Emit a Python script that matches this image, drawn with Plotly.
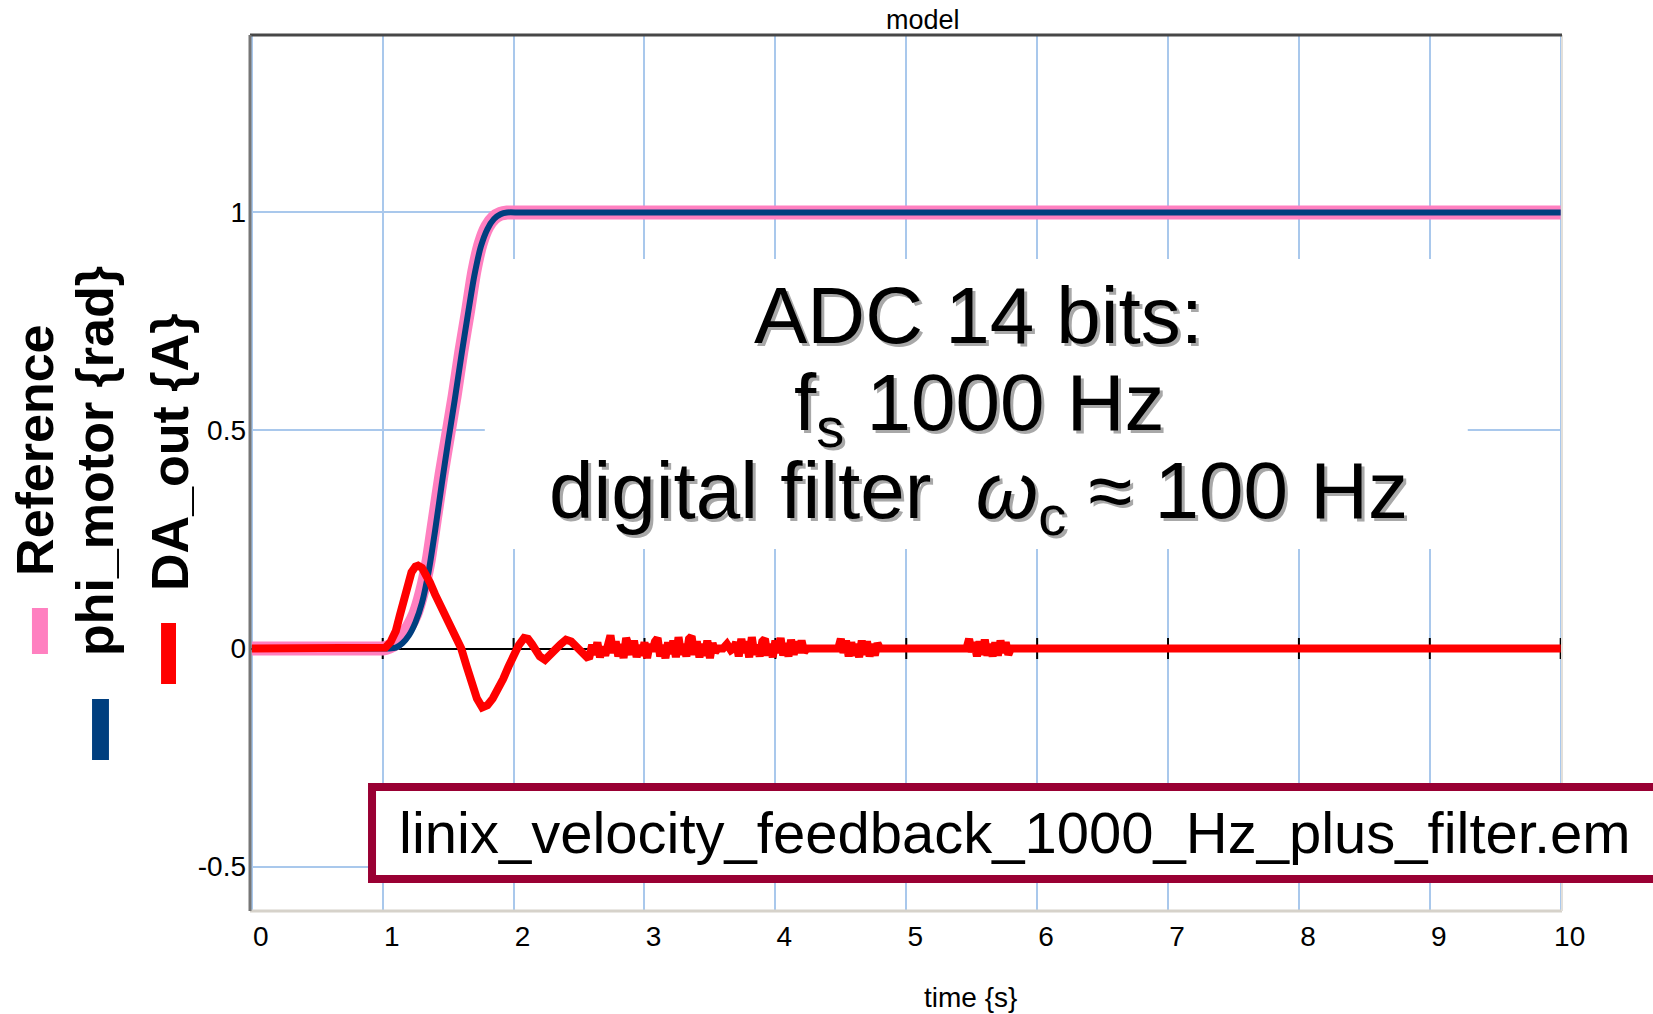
import numpy as np
import plotly.graph_objects as go

# ---- simulation output: time axis and signals ----
t_step = [0.0, 0.95, 1.00, 1.05, 1.10, 1.15, 1.20, 1.25, 1.30, 1.35, 1.40, 1.45, 1.50,
          1.55, 1.60, 1.65, 1.70, 1.75, 1.80, 1.85, 1.90, 1.95, 2.05, 10.0]
reference = [0.0, 0.0, 0.0, 0.004, 0.012, 0.028, 0.05, 0.08, 0.13, 0.20, 0.30, 0.40, 0.49,
             0.58, 0.68, 0.77, 0.865, 0.93, 0.968, 0.988, 0.997, 1.0, 1.0, 1.0]
phi_motor = [0.0, 0.0, 0.0, 0.0, 0.002, 0.012, 0.03, 0.06, 0.105, 0.175, 0.27, 0.375, 0.475,
             0.57, 0.67, 0.765, 0.855, 0.922, 0.962, 0.985, 0.996, 1.0, 1.0, 1.0]

# DA_out transient response after the step
t_da = [0.0, 1.00, 1.02, 1.06, 1.10, 1.13, 1.16, 1.19, 1.22, 1.25, 1.27, 1.30, 1.33,
        1.36, 1.40, 1.44, 1.48, 1.52, 1.56, 1.60, 1.64, 1.68, 1.72, 1.76, 1.80, 1.84,
        1.88, 1.92, 1.96, 2.00, 2.04, 2.08, 2.11, 2.14, 2.17, 2.20, 2.24, 2.28, 2.32,
        2.36, 2.40, 2.44, 2.48, 2.52, 2.56]
da_out = [0.0, 0.0, 0.002, 0.015, 0.04, 0.075, 0.112, 0.145, 0.175, 0.188, 0.19, 0.185,
          0.17, 0.152, 0.124, 0.10, 0.082, 0.058, 0.03, 0.0, -0.04, -0.08, -0.115,
          -0.135, -0.13, -0.115, -0.095, -0.07, -0.042, -0.015, 0.008, 0.024, 0.022,
          0.01, -0.002, -0.018, -0.026, -0.016, -0.002, 0.01, 0.02, 0.016, 0.004,
          -0.008, -0.02]

# quantisation noise bursts of DA_out (sampled every 0.02 s)
noise_a_start, noise_a = 2.58, [
    -0.018, 0.008, -0.014, 0.014, -0.02, 0.004, -0.016, 0.02, 0.03, -0.01,
    0.016, -0.018, 0.01, -0.022, 0.024, 0.006, -0.014, 0.018, -0.02, 0.008,
    -0.016, 0.014, -0.022, 0.01, -0.006, 0.016, 0.024, -0.018, 0.008, -0.022,
    0.014, -0.012, 0.018, -0.02, 0.026, -0.014, 0.01, -0.018, 0.022, 0.028,
    -0.014, 0.016, -0.02, 0.01, -0.016, 0.018, -0.022, 0.012, -0.008, 0.0]
quiet_ab_t = [3.60, 3.63, 3.66, 3.68]
quiet_ab = [0.0, 0.01, -0.004, 0.0]
noise_b_start, noise_b = 3.70, [
    0.014, -0.018, 0.022, -0.01, 0.016, -0.02, 0.026, -0.014, 0.008, -0.018,
    0.016, 0.022, -0.016, 0.01, -0.02, 0.018, -0.01, 0.024, -0.016, 0.012,
    -0.018, 0.02, -0.014, 0.016, -0.01, 0.018, -0.008, 0.0]
quiet_bc_t = [4.26, 4.48]
quiet_bc = [0.0, 0.0]
noise_c_start, noise_c = 4.50, [
    0.022, -0.01, 0.018, -0.018, 0.014, -0.016, 0.01, -0.02, 0.018, -0.014,
    0.016, -0.018, 0.01, -0.016, 0.012, 0.0]
quiet_cd_t = [4.82, 5.46]
quiet_cd = [0.0, 0.0]
noise_d_start, noise_d = 5.48, [
    0.022, -0.008, 0.014, -0.018, 0.016, -0.014, 0.02, -0.016, 0.01, -0.018,
    0.014, -0.016, 0.018, -0.01, 0.014, -0.014, 0.0]
t_end = 10.0

x_ticks = [0, 1, 2, 3, 4, 5, 6, 7, 8, 9, 10]
y_ticks = [-0.5, 0, 0.5, 1]
y_ticktext = ["-0.5", "0", "0.5", "1"]
zero_marks = [1, 2, 3, 4, 5, 6, 7, 8, 9, 10]

# ---- assemble the DA_out series ----
def burst(start, vals):
    return list(np.round(start + 0.02 * np.arange(len(vals)), 3)), list(vals)

ta, ya = burst(noise_a_start, noise_a)
tb, yb = burst(noise_b_start, noise_b)
tc, yc = burst(noise_c_start, noise_c)
td, yd = burst(noise_d_start, noise_d)
da_t = t_da + ta + quiet_ab_t + tb + quiet_bc_t + tc + quiet_cd_t + td + [t_end]
da_y = da_out + ya + quiet_ab + yb + quiet_bc + yc + quiet_cd + yd + [0.0]

PINK = "#ff80c0"
NAVY = "#003f7f"
RED = "#ff0000"
GRID = "#a9c8ec"
SANS = "Liberation Sans, Arial, sans-serif"

fig = go.Figure()

# small black marks along the zero line
fig.add_trace(go.Scatter(x=zero_marks, y=[0] * len(zero_marks), mode="markers",
                         marker=dict(symbol="line-ns", size=15,
                                     line=dict(color="black", width=2)),
                         hoverinfo="skip"))
fig.add_trace(go.Scatter(x=t_step, y=reference, mode="lines", name="Reference",
                         line=dict(color=PINK, width=14, shape="spline", smoothing=0.6)))
fig.add_trace(go.Scatter(x=t_step, y=phi_motor, mode="lines", name="phi_motor {rad}",
                         line=dict(color=NAVY, width=6, shape="spline", smoothing=0.6)))
fig.add_trace(go.Scatter(x=da_t, y=da_y, mode="lines", name="DA_out {A}",
                         line=dict(color=RED, width=8)))

fig.update_xaxes(range=[-0.014, 10.01], tickvals=x_ticks, showgrid=True,
                 gridcolor=GRID, gridwidth=2, zeroline=False, showline=False,
                 ticks="", ticklabelshift=9, ticklabelstandoff=6,
                 tickfont=dict(family=SANS, size=28, color="black"))
fig.update_yaxes(range=[-0.602, 1.407], tickvals=y_ticks, ticktext=y_ticktext,
                 showgrid=True, gridcolor=GRID, gridwidth=2, zeroline=True,
                 zerolinecolor="black", zerolinewidth=1.5, showline=False, ticks="",
                 ticklabelstandoff=3,
                 tickfont=dict(family=SANS, size=28, color="black"))

shapes = [
    # white panel behind the annotation text (hides the grid)
    dict(type="rect", xref="x", yref="y", x0=1.78, x1=9.29, y0=0.228, y1=0.893,
         fillcolor="white", line=dict(width=0), layer="between"),
    # frame of the plot area
    dict(type="line", xref="paper", yref="paper", x0=0, x1=1, y0=0, y1=0,
         line=dict(color="#d6d2ca", width=3)),
    dict(type="line", xref="paper", yref="paper", x0=1, x1=1, y0=0, y1=1,
         line=dict(color="#e2dfda", width=2)),
    dict(type="line", xref="paper", yref="paper", x0=0, x1=1, y0=1, y1=1,
         line=dict(color="#474747", width=3)),
    dict(type="line", xref="paper", yref="paper", x0=0, x1=0, y0=0, y1=1,
         line=dict(color="#767676", width=3)),
    # file name box
    dict(type="rect", xref="paper", yref="paper", x0=0.093, x1=1.2, y0=0.0365, y1=0.1416,
         fillcolor="white", line=dict(color="#990033", width=8), layer="above"),
    # legend colour swatches
    dict(type="rect", xref="paper", yref="paper", x0=-0.1662, x1=-0.1540, y0=0.2934,
         y1=0.3459, fillcolor=PINK, line=dict(width=0)),
    dict(type="rect", xref="paper", yref="paper", x0=-0.1204, x1=-0.1075, y0=0.1724,
         y1=0.2420, fillcolor=NAVY, line=dict(width=0)),
    dict(type="rect", xref="paper", yref="paper", x0=-0.0678, x1=-0.0564, y0=0.2591,
         y1=0.3288, fillcolor=RED, line=dict(width=0)),
]

annotations = []

# legend labels, rotated
for txt, xp, yp in [("Reference", -0.1639, 0.5263),
                    ("phi_motor {rad}", -0.1181, 0.5137),
                    ("DA_out {A}", -0.061, 0.524)]:
    annotations.append(dict(text="<b>" + txt + "</b>", xref="paper", yref="paper",
                            x=xp, y=yp, showarrow=False, textangle=-90,
                            xanchor="center", yanchor="middle",
                            font=dict(family=SANS, size=52, color="black")))

# chart title and x-axis title
annotations.append(dict(text="model", xref="paper", yref="paper", x=0.5126, y=1.0176,
                        showarrow=False, xanchor="center", yanchor="middle",
                        font=dict(family=SANS, size=27, color="black")))
annotations.append(dict(text="time {s}", xref="paper", yref="paper", x=0.5495,
                        y=-0.0993, showarrow=False, xanchor="center", yanchor="middle",
                        font=dict(family=SANS, size=28, color="black")))

# description text with drop shadow
info_lines = [("ADC 14 bits:", 0.680),
              ("f<sub>s</sub> 1000 Hz", 0.5737),
              ("digital filter\u00a0\u00a0<i>\u03c9</i><sub>c</sub> \u2248 100 Hz", 0.4737)]
for txt, yp in info_lines:
    for col, dx, dy in [("#a8a8a8", 3, -3), ("black", 0, 0)]:
        annotations.append(dict(text=txt, xref="paper", yref="paper", x=0.5556, y=yp,
                                xshift=dx, yshift=dy, showarrow=False,
                                xanchor="center", yanchor="middle",
                                font=dict(family=SANS, size=80, color=col)))

annotations.append(dict(text="linix_velocity_feedback_1000_Hz_plus_filter.em",
                        xref="paper", yref="paper", x=(1015 - 250) / 1312, y=0.0895,
                        showarrow=False, xanchor="center", yanchor="middle",
                        font=dict(family=SANS, size=58, color="black")))

fig.update_layout(width=1653, height=1014,
                  margin=dict(l=250, r=91, t=35, b=103),
                  plot_bgcolor="white", paper_bgcolor="white",
                  showlegend=False, shapes=shapes, annotations=annotations)

fig.write_html("out.html")
